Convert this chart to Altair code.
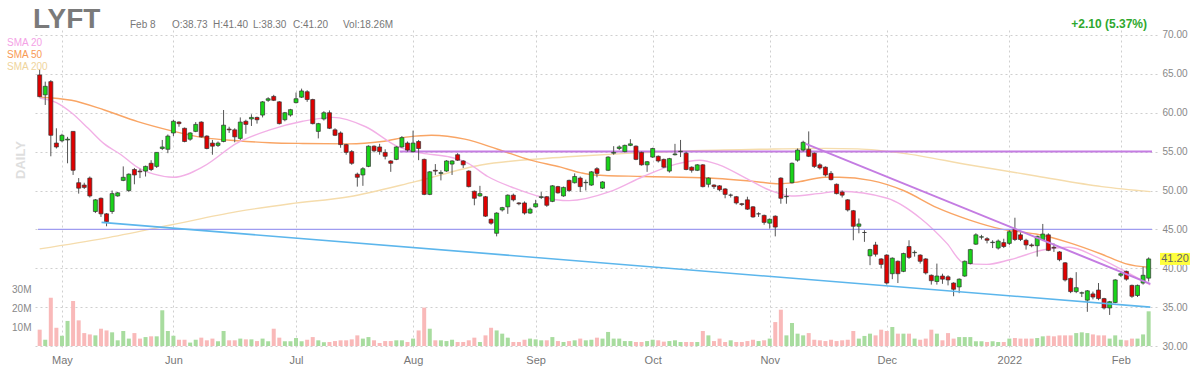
import altair as alt
import pandas as pd

FONT = "Liberation Sans"

opens = [64.86,62.3,64.0,56.1,56.4,56.5,57.6,51.0,50.7,51.6,
         47.3,49.0,47.0,47.3,49.3,51.3,50.0,52.7,52.5,52.5,
         53.5,53.1,55.4,55.3,57.4,58.8,58.0,56.6,57.6,58.8,
         57.0,56.1,55.8,56.3,57.9,57.8,56.7,58.9,59.2,59.4,
         59.7,61.6,62.1,61.4,59.1,59.7,61.3,62.0,62.7,61.7,
         57.6,59.2,60.0,57.8,57.4,55.9,55.0,52.1,52.0,53.1,
         55.7,55.6,54.9,53.8,54.0,55.6,56.1,55.0,56.3,54.0,
         49.5,52.6,52.2,52.5,53.4,54.6,53.8,52.5,49.9,49.3,
         49.2,46.3,44.5,47.5,47.9,49.4,48.4,48.4,47.1,47.9,
         49.1,49.2,48.6,50.5,49.3,51.3,51.0,51.6,51.0,50.7,
         52.8,50.3,52.6,54.8,55.4,55.0,55.8,55.7,54.9,53.3,
         54.3,54.4,54.0,52.5,54.6,55.0,54.8,53.0,52.6,53.3,
         50.8,50.7,50.6,50.2,49.4,49.2,48.3,48.8,47.9,47.0,
         46.8,45.8,46.7,51.6,49.2,51.0,53.9,55.2,55.3,54.8,
         53.3,53.0,52.2,50.8,49.8,48.8,47.4,45.4,44.6,41.6,
         43.0,41.2,41.7,39.3,40.9,39.6,42.8,42.0,41.7,41.2,
         39.1,38.3,39.0,38.9,38.1,37.6,39.0,40.6,43.1,44.0,
         43.8,43.3,42.6,43.3,43.2,45.0,44.3,43.6,43.0,42.9,
         43.7,44.3,42.7,42.1,40.7,38.7,37.0,36.8,35.9,36.7,
         37.2,36.1,34.9,35.6,39.1,39.6,37.8,36.5,38.1,38.73]

highs = [65.6,64.0,64.2,58.0,57.3,56.9,57.6,51.6,51.0,51.8,
         48.9,49.1,47.1,50.0,49.8,53.1,52.2,52.9,52.8,53.2,
         53.9,54.9,56.5,57.2,59.1,58.9,58.1,57.5,58.8,58.9,
         57.1,56.5,56.3,60.35,58.2,58.0,59.4,59.1,59.8,59.5,
         61.5,62.0,62.3,61.5,60.1,60.5,62.6,63.1,62.9,61.8,
         58.7,60.2,60.3,58.0,57.6,56.0,55.2,52.3,53.0,55.8,
         55.8,56.0,55.3,53.9,55.7,57.0,56.3,57.7,56.5,54.1,
         52.5,53.4,52.6,53.9,53.9,54.8,53.9,52.6,50.0,50.6,
         49.3,46.4,47.2,47.9,49.5,49.6,48.5,48.6,47.8,48.8,
         49.8,49.3,50.7,50.6,50.5,51.4,52.2,51.8,51.4,52.5,
         53.0,51.2,54.4,55.7,55.8,55.9,56.6,55.8,55.0,53.8,
         55.5,54.5,54.1,54.2,56.0,56.5,55.0,53.1,53.4,53.4,
         51.7,50.8,50.7,50.3,49.6,49.3,48.4,49.2,48.0,47.2,
         46.9,46.4,46.8,51.7,50.3,53.6,55.4,56.4,57.6,54.9,
         53.5,53.1,52.5,50.9,50.0,48.9,47.5,46.4,44.9,42.5,
         43.4,41.3,41.8,41.4,41.0,42.0,43.6,42.3,41.8,41.3,
         39.2,40.6,39.3,39.1,38.2,38.7,41.0,42.5,44.5,44.3,
         44.0,43.6,43.7,43.8,44.9,46.5,44.6,43.8,43.2,44.2,
         45.7,44.5,43.2,42.2,40.8,38.8,39.5,37.0,37.2,37.0,
         38.1,36.2,35.8,38.6,39.5,39.7,37.9,37.9,40.2,41.4]

lows = [62.0,61.0,54.4,55.4,56.2,53.5,52.0,49.6,50.2,49.1,
        47.1,46.6,45.4,47.0,49.2,51.2,49.8,50.8,51.6,51.8,
        52.5,52.9,55.2,54.8,57.0,58.2,56.2,56.4,57.5,56.8,
        55.3,54.6,55.6,56.2,57.4,56.2,56.5,57.3,58.3,58.6,
        59.4,61.4,61.5,58.5,58.9,59.5,61.2,61.9,61.4,58.5,
        56.7,59.0,57.9,57.0,55.5,54.6,53.3,50.5,50.6,53.0,
        54.9,54.6,54.0,52.4,53.9,55.5,55.0,54.9,53.9,49.4,
        49.4,52.0,51.3,52.4,52.0,53.8,52.9,50.4,48.1,49.2,
        46.6,45.6,44.1,47.3,47.0,48.6,48.1,46.9,47.0,47.8,
        48.9,47.9,48.5,49.6,49.2,49.8,50.9,49.8,50.0,50.6,
        51.7,50.2,52.5,54.6,55.2,54.9,55.7,53.9,53.2,52.4,
        54.2,53.6,52.9,52.3,54.5,54.3,52.6,52.3,52.5,50.4,
        50.4,50.2,49.9,49.0,49.1,48.2,48.0,47.5,46.5,46.6,
        45.6,45.1,44.1,48.3,48.3,50.9,53.7,55.0,54.3,52.9,
        52.7,51.8,51.3,49.5,49.1,47.3,43.6,44.5,43.4,40.4,
        41.5,40.0,37.9,38.6,38.1,39.5,41.2,41.5,40.6,39.2,
        37.9,37.9,38.0,37.8,36.4,36.8,38.9,40.5,43.0,43.7,
        43.2,42.6,42.4,42.6,43.0,43.5,43.5,42.4,42.7,41.5,
        43.5,42.2,42.1,40.9,38.3,36.8,36.8,36.3,34.4,36.0,
        35.9,34.7,34.0,35.5,38.9,38.4,36.2,36.3,37.9,38.3]

closes = [62.07,63.4,57.1,55.6,57.1,56.6,52.6,50.3,50.4,49.3,
          48.8,47.0,46.0,49.6,49.7,51.7,52.1,52.0,52.4,53.1,
          52.7,54.9,55.6,57.0,58.9,58.6,56.3,57.4,58.5,56.9,
          55.4,55.7,56.1,58.4,57.8,56.9,58.8,58.5,59.4,59.1,
          61.4,61.8,61.6,58.6,60.0,60.4,61.8,62.8,61.7,58.6,
          58.6,60.0,58.0,57.1,55.9,54.9,53.5,51.7,52.8,55.7,
          55.1,55.0,54.4,53.5,55.6,56.8,55.2,56.1,55.4,49.5,
          52.4,52.5,52.3,53.8,53.8,53.9,53.3,50.5,49.0,49.6,
          46.7,45.8,47.1,47.8,49.4,48.8,48.3,47.1,47.6,48.3,
          49.2,48.1,50.6,49.7,50.4,50.0,51.8,50.5,51.05,52.4,
          52.2,51.1,54.3,54.9,55.6,55.8,56.0,54.0,53.3,53.7,
          55.4,53.8,53.0,54.1,54.7,55.05,52.7,52.6,53.3,50.5,
          51.6,50.5,50.1,49.5,49.4,48.4,48.2,47.6,46.6,47.0,
          45.9,46.3,45.3,49.0,49.25,53.5,55.2,56.2,54.4,53.1,
          52.9,52.0,51.4,49.6,49.4,47.5,45.4,45.7,44.6,42.4,
          41.8,40.5,38.1,41.3,39.3,41.9,41.4,42.05,40.9,39.4,
          38.4,39.0,38.6,38.5,37.3,38.6,40.9,42.4,44.3,44.05,
          43.6,43.35,43.5,42.8,44.7,43.7,43.7,43.0,42.9,44.1,
          44.4,42.3,42.6,41.1,38.5,37.0,37.5,36.85,37.1,36.3,
          36.1,34.9,35.7,38.5,39.3,38.6,36.4,37.8,39.1,41.2]

volumes_m = [8.6,3.3,25.4,9.6,5.4,13.2,23.7,13.5,6.8,6.1,
             5.6,9.1,8.2,7.2,3.0,7.9,3.9,6.8,3.9,4.7,
             5.1,5.1,18.8,7.9,5.4,3.3,3.3,1.8,3.3,4.4,
             3.0,3.9,2.5,7.9,3.0,3.0,3.9,3.5,3.5,2.6,
             3.9,2.5,9.1,4.4,2.5,2.5,4.2,2.5,3.3,4.7,
             3.0,2.0,2.1,2.6,3.0,3.0,3.5,5.6,3.9,4.7,
             3.0,1.6,2.6,2.6,3.0,3.0,2.1,3.9,8.2,20.2,
             9.1,3.0,3.0,2.6,3.3,2.1,2.1,3.0,4.4,2.1,
             5.6,9.6,8.2,6.5,4.4,2.1,2.1,3.3,3.9,3.5,
             3.0,3.0,4.7,2.6,2.1,2.6,3.0,3.9,3.0,3.3,
             4.4,3.9,7.4,3.9,3.9,2.6,2.6,2.1,2.1,2.6,
             3.3,3.0,2.3,2.6,3.0,2.1,2.1,2.1,2.1,7.9,
             5.6,2.6,3.9,2.1,3.0,2.1,2.1,2.6,3.3,2.6,
             3.0,3.9,12.6,19.1,5.6,12.1,6.5,5.6,6.8,3.3,
             3.0,2.6,3.3,2.6,3.0,3.3,7.9,3.9,5.3,6.5,
             5.6,8.6,7.9,10.0,6.5,6.5,6.5,3.9,3.3,3.9,
             8.6,6.5,3.0,6.8,3.9,4.7,4.7,4.7,2.5,2.5,
             2.1,2.5,2.1,2.1,3.9,4.2,3.9,3.9,3.9,4.2,
             5.1,5.4,5.1,5.6,5.6,5.6,6.8,7.2,6.8,6.1,
             5.6,5.6,3.9,5.6,3.3,3.0,3.9,3.9,6.1,18.26]

# first trading day of each month (index into the session list) and its label
month_idx = [4, 24, 46, 67, 89, 110, 131, 152, 174, 194]
month_lbl = ["May", "Jun", "Jul", "Aug", "Sep", "Oct", "Nov", "Dec", "2022", "Feb"]
price_ticks = [30, 35, 40, 45, 50, 55, 60, 65, 70]
vol_ticks = [10, 20, 30]

# moving averages (session index, price)
sma20_i = [0, 3, 5.7, 8.7, 11.6, 14.6, 17.5, 20.5, 24, 29.4, 35.4, 41.3, 47.2, 52.6, 58.5, 64.4, 68.6,
           73.3, 76.9, 80.4, 85.2, 89.9, 95, 102.3, 108.3, 114.2, 118.4, 121.9, 126.7, 130.8, 134.9,
           139.7, 143.5, 152.1, 158.1, 162.8, 165.8, 169.9, 174.1, 180, 184.7, 189.5, 194.8, 199.3]
sma20_v = [61.9, 61.3, 60.0, 58.0, 56.0, 54.6, 53.0, 52.1, 51.7, 53.1, 56.1, 57.8, 58.9, 59.4, 58.2, 55.6, 54.8,
           54.35, 53.5, 51.8, 50.3, 49.2, 48.7, 49.85, 51.8, 53.4, 53.9, 53.3, 51.6, 50.1, 49.3,
           49.6, 49.9, 49.0, 46.4, 43.2, 40.7, 40.5, 41.1, 42.35, 42.7, 41.5, 39.6, 37.85]
sma50_i = [0, 5.7, 11.6, 17.6, 23.5, 29.4, 35.4, 41.3, 47.2, 55.5, 61.4, 66.2, 70.3, 76.3, 82.2, 88.1,
           93.5, 97, 99.4, 108.3, 120.1, 129, 132.6, 136.1, 140.9, 143.5, 149.1, 155, 161, 166.9, 172.8,
           178.8, 184.7, 190.6, 194.8, 199.3]
sma50_v = [62.0, 61.6, 60.35, 58.85, 57.7, 56.8, 56.4, 56.15, 56.05, 56.0, 56.3, 56.9, 57.1, 56.6, 55.3, 53.9,
           53.0, 52.3, 52.0, 51.8, 51.6, 51.1, 50.85, 51.1, 51.7, 51.7, 51.3, 50.0, 47.8, 46.2, 45.0,
           44.4, 43.3, 41.8, 40.6, 40.1]
sma200_i = [0, 11.6, 23.5, 35.4, 45, 55.5, 67.4, 79.2, 91.1, 97, 105.4, 117.2, 129.1, 141, 146.8, 155,
            166.9, 178.8, 190.6, 199.3]
sma200_v = [42.5, 43.85, 45.56, 47.28, 48.3, 49.2, 51.14, 53.28, 54.14, 54.43, 54.78, 55.12, 55.3, 55.42, 55.35,
            54.78, 53.28, 51.87, 50.5, 49.85]

# drawn trend lines (session index, price)
down_i, down_v = [137.5, 199.3], [56.0, 38.0]
support_i, support_v = [11.1, 199.3], [45.9, 35.0]
res55_i, res55_v = [64.6, 199.6], [55.0, 55.0]
lvl45_i, lvl45_v = [-0.3, 199.6], [45.0, 45.0]

last_close = 41.2

df = pd.DataFrame({"i": list(range(len(opens))), "open": opens, "high": highs,
                   "low": lows, "close": closes, "vol": volumes_m})

def pts(ix, vals):
    return pd.DataFrame({"i": ix, "v": vals})

# ---------------------------------------------------------------- scales/axes
xscale = alt.Scale(domain=[-0.3, 199.6], nice=False, zero=False)
yscale = alt.Scale(domain=[29.49, 70.64], nice=False, zero=False)
vscale = alt.Scale(domain=[-2.1, 166.3], nice=False, zero=False)

lbl_expr = "[" + ",".join("'%s'" % m for m in month_lbl) + "][indexof([" + \
    ",".join(str(v) for v in month_idx) + "], datum.value)]"
xaxis = alt.Axis(values=month_idx, labelExpr=lbl_expr, grid=True, gridDash=[2, 3],
                 gridColor="#cfcfcf", ticks=False, domain=False, labelColor="#777",
                 labelFontSize=11, labelFont=FONT, labelPadding=4, title=None)
yaxis = alt.Axis(orient="right", values=price_ticks, format=".2f", grid=True, gridDash=[2, 3],
                 gridColor="#cfcfcf", ticks=False, domain=False, labelColor="#888",
                 labelFontSize=10, labelFont=FONT, labelPadding=5, title=None)
vaxis = alt.Axis(orient="left", values=vol_ticks, labelExpr="datum.value + 'M'", grid=False,
                 ticks=False, domain=False, labelColor="#888", labelFontSize=10,
                 labelFont=FONT, labelPadding=2, title=None)

X = alt.X("i:Q", scale=xscale, axis=xaxis)

up = "datum.close >= datum.open"

volume = alt.Chart(df).mark_bar(size=4).encode(
    x=X,
    y=alt.Y("vol:Q", scale=vscale, axis=vaxis),
    y2=alt.datum(0),
    color=alt.condition(up, alt.value("#a8dc9f"), alt.value("#f9b9b9")),
)

def pline(data, color, width):
    return alt.Chart(data).mark_line(color=color, strokeWidth=width, interpolate="monotone").encode(
        x=X, y=alt.Y("v:Q", scale=yscale, axis=yaxis))

def sline(data, color, width):
    return alt.Chart(data).mark_line(color=color, strokeWidth=width).encode(
        x=X, y=alt.Y("v:Q", scale=yscale, axis=yaxis))

wick = alt.Chart(df).mark_rule(color="#555", strokeWidth=1).encode(
    x=X, y=alt.Y("low:Q", scale=yscale, axis=yaxis), y2="high:Q")
body = alt.Chart(df).mark_bar(size=4, stroke="#333", strokeWidth=0.7).encode(
    x=X, y=alt.Y("open:Q", scale=yscale, axis=yaxis), y2="close:Q",
    fill=alt.condition(up, alt.value("#19d419"), alt.value("#e00000")))

badge_bg = alt.Chart(pd.DataFrame({"v": [last_close]})).mark_point(
    shape="M-1.5,-0.6H1.5V0.6H-1.5Z", size=400, filled=True, color="#ffff3c", opacity=1).encode(
    x=alt.value(1142), y=alt.Y("v:Q", scale=yscale, axis=yaxis))
badge_tx = alt.Chart(pd.DataFrame({"v": [last_close], "t": ["41.20"]})).mark_text(
    font=FONT, fontSize=11, color="#666", align="center", baseline="middle").encode(
    x=alt.value(1142), y=alt.Y("v:Q", scale=yscale, axis=yaxis), text="t:N")

price = alt.layer(
    pline(pts(sma200_i, sma200_v), "#f5dcac", 1.4),
    pline(pts(sma50_i, sma50_v), "#f9a565", 1.4),
    pline(pts(sma20_i, sma20_v), "#f2b0e6", 1.4),
    sline(pts(lvl45_i, lvl45_v), "#9f9cf0", 1.3),
    sline(pts(res55_i, res55_v), "#c47ce2", 2),
    wick, body,
    sline(pts(down_i, down_v), "#c47ce2", 2),
    sline(pts(support_i, support_v), "#5cb6ec", 1.6),
    badge_bg, badge_tx,
)

def label(text, x, y, size, color, weight="normal", align="left", angle=0, baseline="alphabetic"):
    return alt.Chart(pd.DataFrame({"t": [text]})).mark_text(
        font=FONT, fontSize=size, fontWeight=weight, color=color, align=align,
        baseline=baseline, angle=angle).encode(x=alt.value(x), y=alt.value(y), text="t:N")

texts = [
    label("LYFT", 0, -2, 28, "#7a7a7a", "bold"),
    label("Feb 8", 97, -2, 10, "#777"),
    label("O:38.73", 139, -2, 10, "#777"),
    label("H:41.40", 180, -2, 10, "#777"),
    label("L:38.30", 220, -2, 10, "#777"),
    label("C:41.20", 260, -2, 10, "#777"),
    label("Vol:18.26M", 310, -2, 10, "#777"),
    label("+2.10 (5.37%)", 1114, -2, 12, "#2fa82f", "bold", "right"),
    label("SMA 20", -26, 16, 10, "#f4a2e6"),
    label("SMA 50", -26, 28, 10, "#f89a55"),
    label("SMA 200", -26, 39.5, 10, "#efd49c"),
    label("DAILY", -12.5, 130, 13, "#dedede", "bold", "center", 270, "middle"),
]

chart = alt.layer(volume, price, *texts).resolve_scale(y="independent").properties(
    width=1124, height=320,
    autosize=alt.AutoSizeParams(type="none"),
    padding={"left": 33, "top": 30, "right": 43, "bottom": 25},
    background="white",
).configure_view(stroke=None)

chart.save("out.html", embed_options={"renderer": "svg", "actions": False})
